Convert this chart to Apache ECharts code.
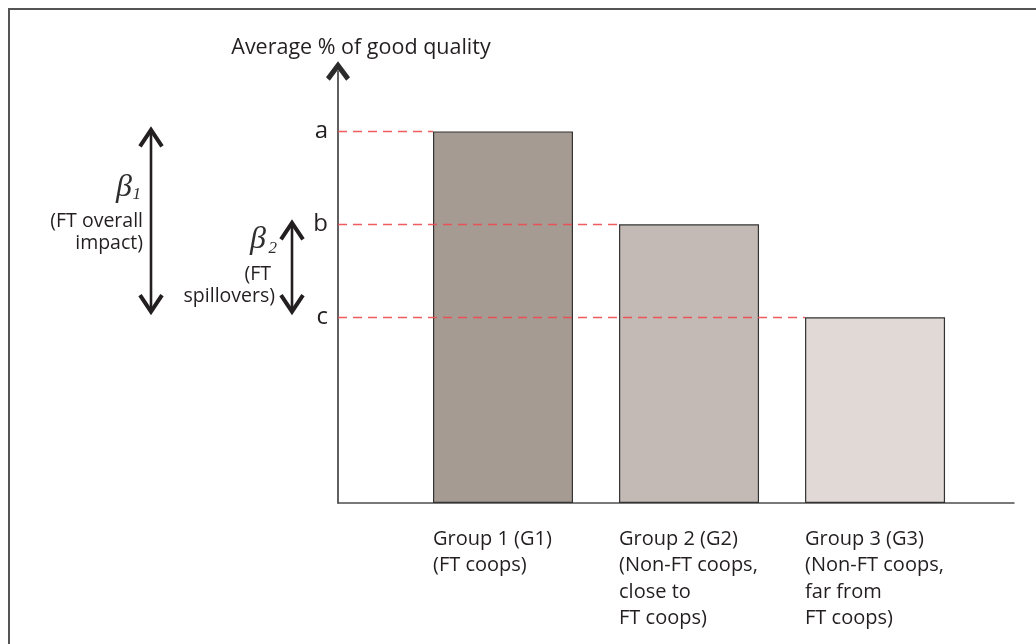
<!DOCTYPE html>
<html>
<head>
<meta charset="utf-8">
<script src="https://cdn.jsdelivr.net/npm/echarts@6/dist/echarts.min.js"></script>
<style>
  html, body { margin: 0; padding: 0; background: #fff; }
  #chart { width: 1036px; height: 644px; }
</style>
</head>
<body>
<div id="chart"></div>
<script>
// data
var groupNames = [
    'Group 1 (G1)\n(FT coops)',
    'Group 2 (G2)\n(Non-FT coops,\nclose to\nFT coops)',
    'Group 3 (G3)\n(Non-FT coops,\nfar from\nFT coops)'
];
var groupPos = [1, 2, 3];
var quality = [80, 60, 40];
var levelNames = ['a', 'b', 'c'];
var barColors = ['#a69b93', '#c3bab5', '#e0d9d6'];

var font = 'Open Sans';
var textColor = '#231f20';
var xMin = 0.113, xMax = 3.747;
var barPx = 140;
var half = barPx / 2 / (676 / (xMax - xMin));

var chevron = 'path://M12 0 L24 16 L20.2 19.5 L12 8.6 L3.8 19.5 L0 16 Z';

var chart = echarts.init(document.getElementById('chart'));

var option = {
    animation: false,
    backgroundColor: '#fff',
    grid: { left: 338, right: 22, top: 71, bottom: 141, outerBoundsMode: 'none' },
    xAxis: {
        type: 'value',
        min: xMin,
        max: xMax,
        axisLine: { show: true, lineStyle: { color: '#4d4d4d', width: 1.5 } },
        axisTick: { show: false },
        axisLabel: { show: false },
        splitLine: { show: false }
    },
    yAxis: {
        type: 'value',
        min: 0,
        max: 93,
        interval: 20,
        name: 'Average % of good quality',
        nameLocation: 'end',
        nameGap: 12,
        nameTextStyle: { fontFamily: font, fontSize: 21.5, color: textColor, padding: [0, 0, 0, 46] },
        axisLine: {
            show: true,
            symbol: ['none', chevron],
            symbolSize: [24, 20],
            symbolOffset: [0, 0],
            lineStyle: { color: '#2b2b2b', width: 1.5 }
        },
        axisTick: { show: false },
        splitLine: { show: false },
        axisLabel: {
            margin: 10,
            fontFamily: font,
            fontSize: 24,
            color: textColor,
            padding: [0, 0, 6, 0],
            formatter: function (v) {
                var i = quality.indexOf(v);
                return i >= 0 ? levelNames[i] : '';
            }
        }
    },
    series: [{
        type: 'bar',
        barWidth: barPx,
        data: groupPos.map(function (x, i) {
            return {
                value: [x, quality[i]],
                name: groupNames[i],
                itemStyle: { color: barColors[i] }
            };
        }),
        itemStyle: { borderColor: '#333', borderWidth: 1.2 },
        label: {
            show: true,
            position: [0, '100%'],
            offset: [0, 23],
            align: 'left',
            verticalAlign: 'top',
            fontFamily: font,
            fontSize: 20,
            lineHeight: 26.5,
            color: textColor,
            formatter: function (p) { return p.name; }
        },
        markLine: {
            silent: true,
            symbol: ['none', 'none'],
            label: { show: false },
            lineStyle: { color: '#f04a50', width: 1.3, type: [9, 6], opacity: 0.9 },
            data: quality.map(function (v, i) {
                return [{ coord: [xMin, v] }, { coord: [groupPos[i] - half, v] }];
            })
        }
    }]
};
chart.setOption(option);

// beta arrows spanning the level differences
function yPx(v) { return chart.convertToPixel({ yAxisIndex: 0 }, v); }

function arrow(x, v1, v2) {
    var y1 = yPx(v1) - 3, y2 = yPx(v2) - 4;
    var w = 11, h = 18;
    var st = { stroke: textColor, lineWidth: 4, fill: null, lineJoin: 'miter', lineCap: 'butt' };
    return [
        { type: 'line', shape: { x1: x, y1: y1 + 2, x2: x, y2: y2 - 2 }, style: { stroke: textColor, lineWidth: 2.6 } },
        { type: 'polyline', shape: { points: [[x - w, y1 + h], [x, y1 + 1.5], [x + w, y1 + h]] }, style: st },
        { type: 'polyline', shape: { points: [[x - w, y2 - h], [x, y2 - 1.5], [x + w, y2 - h]] }, style: st }
    ];
}

function txt(x, y, text, extra) {
    var s = { text: text, x: x, y: y, fill: textColor, fontFamily: font, fontSize: 19.5, align: 'right', verticalAlign: 'middle', lineHeight: 24 };
    for (var k in extra) s[k] = extra[k];
    return { type: 'text', style: s };
}

var beta = { fontFamily: 'Liberation Serif', fontStyle: 'italic', fontSize: 32, fill: '#2e2e2e' };
var sub = { fontFamily: 'Liberation Serif', fontStyle: 'italic', fontSize: 17, fill: '#2e2e2e' };

var yA = yPx(quality[0]), yB = yPx(quality[1]);

var elements = [
    { type: 'rect', shape: { x: 9, y: 9, width: 1040, height: 650 }, style: { fill: null, stroke: '#555', lineWidth: 2 } }
]
.concat(arrow(151, quality[0], quality[2]))
.concat(arrow(292, quality[1], quality[2]))
.concat([
    txt(132, yA + 56, '\u03b2', beta),
    txt(141, yA + 63, '1', sub),
    txt(143, yA + 90, '(FT overall'),
    txt(143, yA + 112, 'impact)'),
    txt(266, yB + 15, '\u03b2', beta),
    txt(277, yB + 24, '2', sub),
    txt(271, yB + 50, '(FT'),
    txt(275, yB + 72, 'spillovers)')
]);

chart.setOption({ graphic: { elements: elements } });
</script>
</body>
</html>
